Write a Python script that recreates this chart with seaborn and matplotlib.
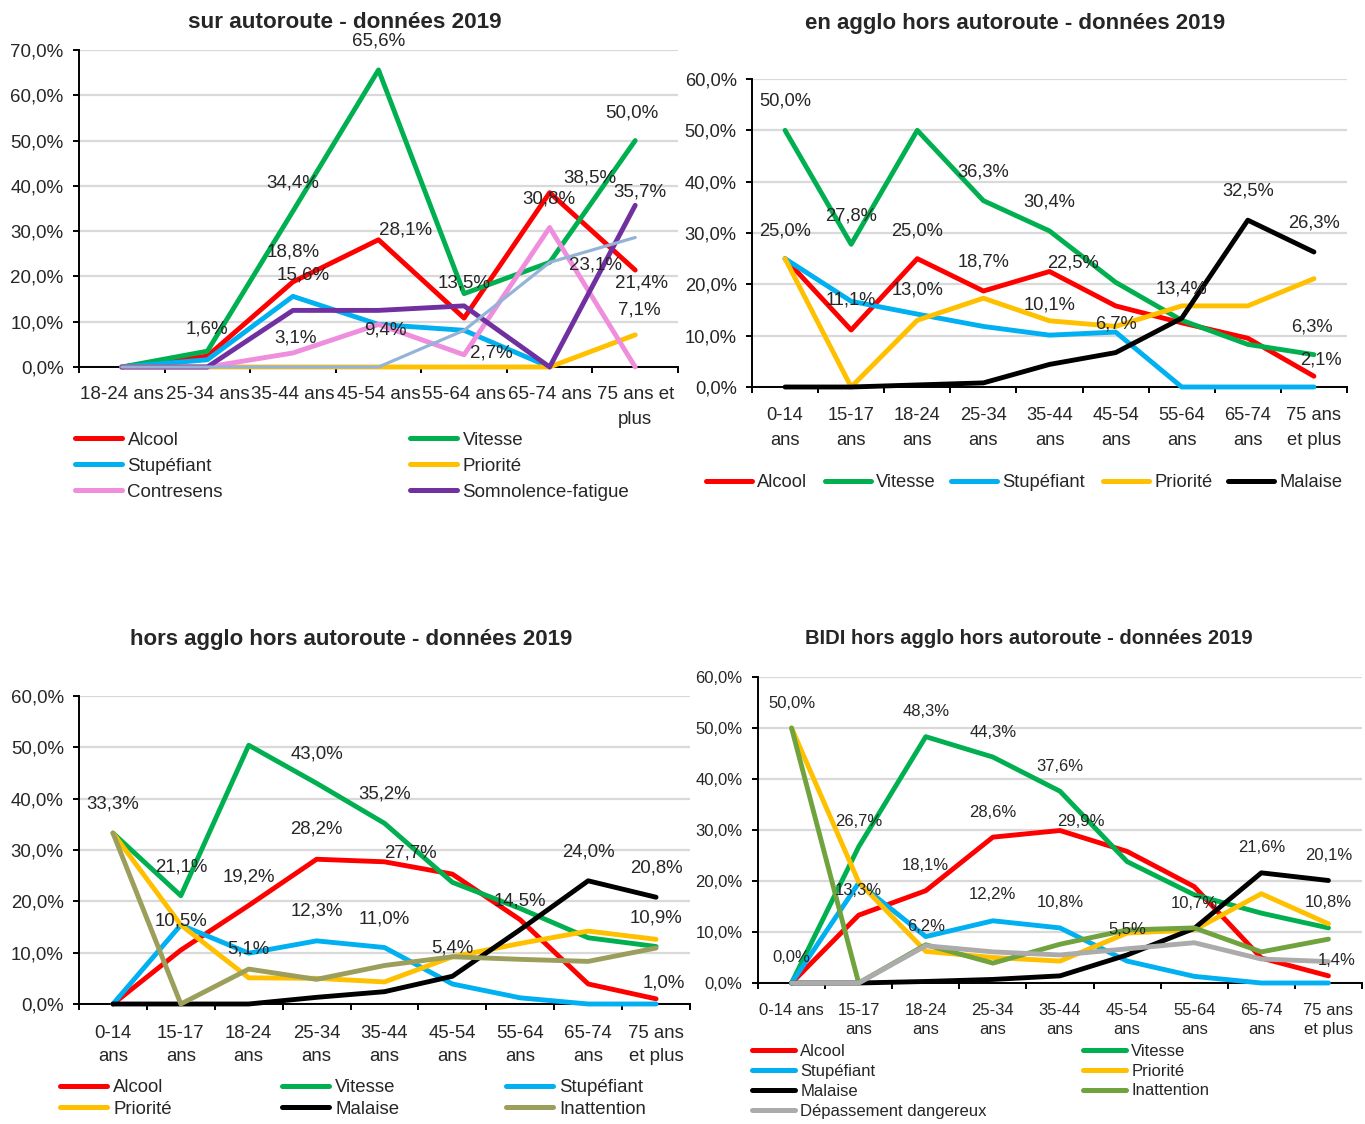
import numpy as np
import pandas as pd
import matplotlib
matplotlib.use("Agg")
import matplotlib.pyplot as plt
from matplotlib.lines import Line2D
from matplotlib.ticker import FuncFormatter
import seaborn as sns

# Taille de la figure en pixels
W, H = 1365, 1124

# ---------------- Données (en %) ----------------
# Tranches d'âge
tranches_auto = ["18-24 ans", "25-34 ans", "35-44 ans", "45-54 ans", "55-64 ans",
                 "65-74 ans", "75 ans et\nplus"]
tranches = ["0-14\nans", "15-17\nans", "18-24\nans", "25-34\nans", "35-44\nans",
            "45-54\nans", "55-64\nans", "65-74\nans", "75 ans\net plus"]
tranches_bidi = ["0-14 ans"] + tranches[1:]

# sur autoroute
auto_alcool = [0, 2.4, 18.8, 28.1, 10.8, 38.5, 21.4]
auto_vitesse = [0, 3.5, 34.4, 65.6, 16.2, 23.1, 50.0]
auto_stup = [0, 1.6, 15.6, 9.4, 8.1, 0, np.nan]
auto_priorite = [0, 0, 0, 0, 0, 0, 7.1]
auto_contresens = [0, 0, 3.1, 9.4, 2.7, 30.8, 0]
auto_somnolence = [0, 0, 12.5, 12.5, 13.5, 0, 35.7]
auto_sans_legende = [0, 0, 0, 0, 8.1, 23.1, 28.6]

# en agglo hors autoroute
agglo_alcool = [25.0, 11.1, 25.0, 18.7, 22.5, 15.8, 12.5, 9.5, 2.1]
agglo_vitesse = [50.0, 27.8, 50.0, 36.3, 30.4, 20.4, 13.0, 8.3, 6.3]
agglo_stup = [25.0, 16.7, 14.2, 11.8, 10.1, 10.7, 0, 0, 0]
agglo_priorite = [25.0, 0, 13.0, 17.3, 12.9, 11.8, 15.8, 15.8, 21.1]
agglo_malaise = [0, 0, 0.4, 0.8, 4.4, 6.7, 13.4, 32.5, 26.3]

# hors agglo hors autoroute
hors_alcool = [0, 10.5, 19.2, 28.2, 27.7, 25.3, 16.4, 3.9, 1.0]
hors_vitesse = [33.3, 21.1, 50.4, 43.0, 35.2, 23.7, 18.6, 12.9, 11.2]
hors_stup = [0, 15.4, 9.9, 12.3, 11.0, 3.9, 1.2, 0, 0]
hors_priorite = [33.3, 15.4, 5.1, 5.0, 4.3, 9.2, 11.8, 14.2, 12.6]
hors_malaise = [0, 0, 0, 1.3, 2.4, 5.4, 14.5, 24.0, 20.8]
hors_inattention = [33.3, 0, 6.8, 4.8, 7.5, 9.2, 8.7, 8.3, 10.9]

# BIDI hors agglo hors autoroute
bidi_alcool = [0, 13.3, 18.1, 28.6, 29.9, 25.8, 18.9, 4.9, 1.4]
bidi_vitesse = [0, 26.7, 48.3, 44.3, 37.6, 23.8, 17.3, 13.7, 10.8]
bidi_stup = [0, 19.6, 9.1, 12.2, 10.8, 4.3, 1.3, 0, 0]
bidi_priorite = [50.0, 19.8, 6.2, 5.0, 4.3, 9.8, 10.4, 17.5, 11.6]
bidi_malaise = [0, 0, 0.3, 0.7, 1.4, 5.5, 10.7, 21.6, 20.1]
bidi_inattention = [50.0, 0, 7.5, 3.9, 7.6, 10.4, 10.8, 6.1, 8.6]
bidi_depassement = [0, 0, 7.3, 6.1, 5.5, 6.7, 7.9, 4.7, 4.2]

couleurs = {
    "Alcool": "#FF0000", "Vitesse": "#00B050", "Stupéfiant": "#00B0F0",
    "Priorité": "#FFC000", "Contresens": "#EE8EDD", "Somnolence-fatigue": "#7030A0",
    "Malaise": "#000000", "Inattention": "#9C9E5C", "Dépassement dangereux": "#ABABAB",
    "_autre": "#95B3D7",
}

# étiquettes de données : (série, index, décalage x px, décalage y px)
etiq_auto = [("Vitesse", 2, 0, -28), ("Vitesse", 3, 0, -29), ("Vitesse", 6, -3, -28),
             ("Alcool", 2, 0, -30), ("Alcool", 3, 27, -10), ("Alcool", 5, 40, -15),
             ("Alcool", 6, 6, 13), ("Stupéfiant", 1, 0, -31), ("Stupéfiant", 2, 10, -21),
             ("Contresens", 2, 3, -15), ("Contresens", 3, 7, 6), ("Contresens", 4, 27, -2),
             ("Contresens", 5, -1, -29), ("Somnolence-fatigue", 4, 0, -23),
             ("Somnolence-fatigue", 6, 5, -13), ("_autre", 5, 46, 3), ("Priorité", 6, 4, -25)]
etiq_agglo = [("Vitesse", 0, 0, -29), ("Vitesse", 1, 0, -28), ("Vitesse", 3, 0, -29),
              ("Vitesse", 4, 0, -29), ("Vitesse", 8, -2, -28), ("Alcool", 0, 0, -28),
              ("Alcool", 1, 0, -30), ("Alcool", 2, 0, -28), ("Alcool", 3, 0, -29),
              ("Alcool", 4, 24, -9), ("Alcool", 8, 7, -16), ("Priorité", 2, 0, -30),
              ("Stupéfiant", 4, 0, -30), ("Malaise", 5, 0, -29), ("Malaise", 6, 0, -29),
              ("Malaise", 7, 0, -29), ("Malaise", 8, 0, -29)]
etiq_hors = [("Vitesse", 0, 0, -29), ("Vitesse", 1, 0, -29), ("Vitesse", 3, 0, -29),
             ("Vitesse", 4, 0, -29), ("Alcool", 1, 0, -29), ("Alcool", 2, 0, -28),
             ("Alcool", 3, 0, -30), ("Alcool", 4, 26, -9), ("Alcool", 8, 8, -16),
             ("Stupéfiant", 3, 0, -30), ("Stupéfiant", 4, 0, -29), ("Priorité", 2, 0, -29),
             ("Malaise", 5, 0, -28), ("Malaise", 6, 0, -29), ("Malaise", 7, 0, -29),
             ("Malaise", 8, 0, -29), ("Inattention", 8, 0, -30)]
etiq_bidi = [("Priorité", 0, 0, -25), ("Vitesse", 0, 0, -25), ("Vitesse", 1, 0, -25),
             ("Alcool", 1, 0, -25), ("Vitesse", 2, 0, -25), ("Alcool", 2, 0, -25),
             ("Priorité", 2, 0, -25), ("Vitesse", 3, 0, -25), ("Alcool", 3, 0, -25),
             ("Stupéfiant", 3, 0, -26), ("Vitesse", 4, 0, -25), ("Alcool", 4, 21, -9),
             ("Stupéfiant", 4, 0, -25), ("Malaise", 5, 0, -25), ("Malaise", 6, 0, -25),
             ("Malaise", 7, 0, -25), ("Malaise", 8, 0, -25), ("Vitesse", 8, 0, -25),
             ("Alcool", 8, 8, -15)]

# ---------------- Style ----------------
sns.set_style("white")
plt.rcParams['font.family'] = ['Liberation Sans', 'DejaVu Sans']


def fmt_pct(v, pos=None):
    return f"{v:.1f}%".replace('.', ',')


def tracer(ax, cats, series, ymax, fs, etiquettes, interligne, pad, lw=3.5):
    n = len(cats)
    rang = np.arange(n)
    for nom, vals in series.items():
        df = pd.DataFrame({"rang": rang, "part": vals})
        sns.lineplot(data=df, x="rang", y="part", color=couleurs[nom],
                     linewidth=(2.3 if nom == "_autre" else lw), ax=ax)
    for ln in ax.lines:
        ln.set_solid_capstyle('round')
        ln.set_solid_joinstyle('round')
        ln.set_clip_on(False)
        ln.set_zorder(3)
    ax.set_xlim(-0.5, n - 0.5)
    ax.set_ylim(0, ymax)
    ax.set_yticks(np.arange(0, ymax + 1, 10))
    ax.yaxis.set_major_formatter(FuncFormatter(fmt_pct))
    ax.set_xticks(rang)
    ax.set_xticklabels(cats, linespacing=interligne)
    ax.set_xticks(np.arange(-0.5, n), minor=True)
    ax.tick_params(axis='x', which='major', length=0, pad=pad, labelsize=fs)
    ax.tick_params(axis='x', which='minor', length=4.5, width=1.4, direction='out',
                   color='black', bottom=True)
    ax.tick_params(axis='y', length=4, width=1.4, direction='out', color='black',
                   pad=7, labelsize=fs, left=True)
    ax.yaxis.grid(True, color='#D9D9D9', linewidth=1.6)
    ax.xaxis.grid(False)
    ax.set_axisbelow(True)
    for s in ['top', 'right']:
        ax.spines[s].set_visible(False)
    for s in ['left', 'bottom']:
        ax.spines[s].set_color('black')
        ax.spines[s].set_linewidth(1.4)
    ax.set_xlabel("")
    ax.set_ylabel("")
    for nom, i, dx, dy in etiquettes:
        v = series[nom][i]
        ax.annotate(fmt_pct(v), (i, v), xytext=(dx * 0.72, -dy * 0.72),
                    textcoords='offset points', ha='center', va='center',
                    fontsize=fs, zorder=6, annotation_clip=False)


def legende(fig, noms, xs, ys, fs, hl, lw=3.6):
    ncol = len(xs)
    fs_px = fs / 0.72
    ls = ((ys[1] - ys[0]) / fs_px - 0.97) if len(ys) > 1 else 0.2
    for j, x in enumerate(xs):
        sel = noms[j::ncol]
        yc = (ys[0] + ys[len(sel) - 1]) / 2
        handles = [Line2D([], [], color=couleurs[n], lw=lw, solid_capstyle='round') for n in sel]
        fig.legend(handles, sel, loc='center left', bbox_to_anchor=(x / W, 1 - yc / H),
                   bbox_transform=fig.transFigure, frameon=False, borderpad=0,
                   borderaxespad=0, handlelength=hl, handletextpad=0.3,
                   labelspacing=ls, fontsize=fs)


def zone(left, right, top, bottom):
    return [left / W, 1 - bottom / H, (right - left) / W, (bottom - top) / H]


fig = plt.figure(figsize=(W / 100, H / 100), dpi=100)

# --- sur autoroute ---
ax1 = fig.add_axes(zone(79, 678, 50, 367))
s1 = {"Alcool": auto_alcool, "Vitesse": auto_vitesse, "Stupéfiant": auto_stup,
      "Priorité": auto_priorite, "Contresens": auto_contresens,
      "Somnolence-fatigue": auto_somnolence, "_autre": auto_sans_legende}
tracer(ax1, tranches_auto, s1, 70, 13.5, etiq_auto, 1.6, 14)
fig.text(345 / W, 1 - 23 / H, "sur autoroute - données 2019", fontsize=16.2,
         fontweight='bold', ha='center', va='center')
legende(fig, ["Alcool", "Vitesse", "Stupéfiant", "Priorité", "Contresens",
              "Somnolence-fatigue"], [75, 410], [439, 466, 493], 13.5, 2.5)

# --- en agglo hors autoroute ---
ax2 = fig.add_axes(zone(752, 1347, 79, 387))
s2 = {"Alcool": agglo_alcool, "Vitesse": agglo_vitesse, "Stupéfiant": agglo_stup,
      "Priorité": agglo_priorite, "Malaise": agglo_malaise}
tracer(ax2, tranches, s2, 60, 13.2, etiq_agglo, 1.58, 14.6)
fig.text(1015 / W, 1 - 23 / H, "en agglo hors autoroute - données 2019", fontsize=16,
         fontweight='bold', ha='center', va='center')
legende(fig, ["Alcool", "Vitesse", "Stupéfiant", "Priorité", "Malaise"],
        [706, 825, 951, 1103, 1228], [483], 13.2, 2.5)

# --- hors agglo hors autoroute ---
ax3 = fig.add_axes(zone(79, 690, 696, 1004))
s3 = {"Alcool": hors_alcool, "Vitesse": hors_vitesse, "Stupéfiant": hors_stup,
      "Priorité": hors_priorite, "Malaise": hors_malaise, "Inattention": hors_inattention}
tracer(ax3, tranches, s3, 60, 13.4, etiq_hors, 1.49, 15)
fig.text(351 / W, 1 - 640 / H, "hors agglo hors autoroute - données 2019", fontsize=16,
         fontweight='bold', ha='center', va='center')
legende(fig, ["Alcool", "Vitesse", "Stupéfiant", "Priorité", "Malaise", "Inattention"],
        [60, 282, 506], [1087, 1110], 13.4, 2.55)

# --- BIDI hors agglo hors autoroute ---
ax4 = fig.add_axes(zone(758, 1362, 677, 983))
couleurs["Inattention"] = "#70A23E"
s4 = {"Alcool": bidi_alcool, "Vitesse": bidi_vitesse, "Stupéfiant": bidi_stup,
      "Priorité": bidi_priorite, "Malaise": bidi_malaise, "Inattention": bidi_inattention,
      "Dépassement dangereux": bidi_depassement}
tracer(ax4, tranches_bidi, s4, 60, 12, etiq_bidi, 1.3, 14.4)
fig.text(1029 / W, 1 - 639 / H, "BIDI hors agglo hors autoroute - données 2019",
         fontsize=14.5, fontweight='bold', ha='center', va='center')
legende(fig, ["Alcool", "Vitesse", "Stupéfiant", "Priorité", "Malaise", "Inattention",
              "Dépassement dangereux"], [752, 1083], [1050, 1071, 1092, 1113], 12, 2.6)

fig.savefig("out.png", dpi=100)
